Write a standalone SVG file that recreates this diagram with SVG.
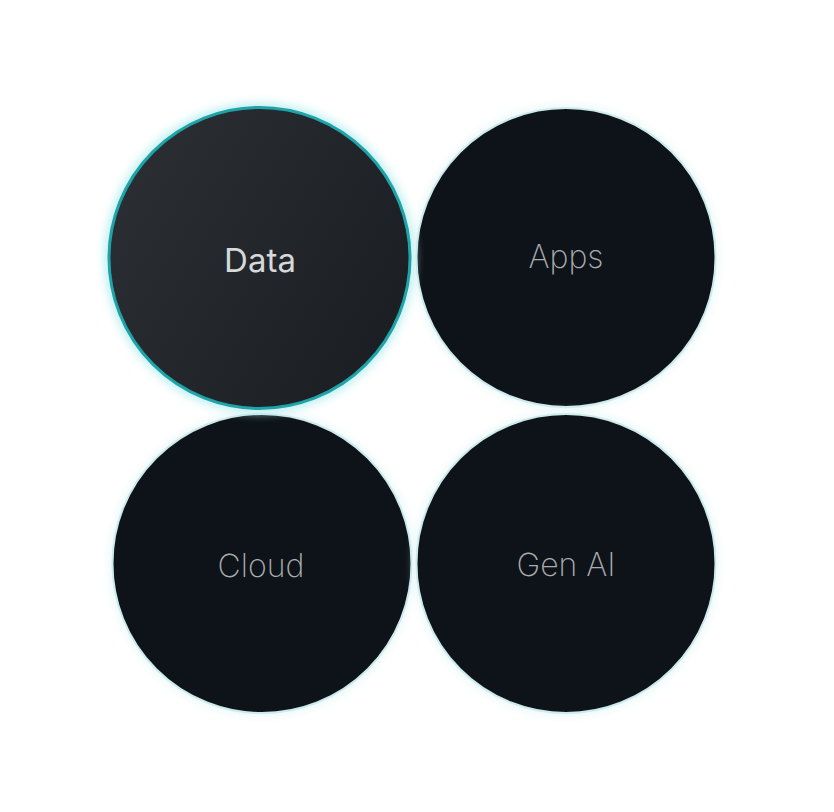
<svg xmlns="http://www.w3.org/2000/svg" width="834" height="812" viewBox="0 0 834 812">
<style>
.disc{fill:#0d1318;stroke:#cdeaec;stroke-width:2}
.lbl{font-family:Inter,"Liberation Sans",sans-serif;font-size:32px;font-weight:250;fill:#a9abad;text-anchor:middle}
.lbl-on{font-family:Inter,"Liberation Sans",sans-serif;font-size:33px;font-weight:400;fill:#d6d8da;text-anchor:middle}
</style>
<defs>
<linearGradient id="gData" x1="0" y1="0.2" x2="1" y2="0.8">
<stop offset="0" stop-color="#2b2f33"/>
<stop offset="1" stop-color="#1a1e22"/>
</linearGradient>
<filter id="glow" x="-20%" y="-20%" width="140%" height="140%">
<feGaussianBlur stdDeviation="5"/>
</filter>
</defs>
<rect width="834" height="812" fill="#ffffff"/>
<g id="node-apps">
<circle cx="566" cy="257.5" r="152" fill="#d9f2f3" filter="url(#glow)" opacity="0.6"/>
<circle class="disc" cx="566" cy="257.5" r="149.5"/>
<text class="lbl" x="566" y="268">Apps</text>
</g>
<g id="node-cloud">
<circle cx="262" cy="563.5" r="152" fill="#d9f2f3" filter="url(#glow)" opacity="0.6"/>
<circle class="disc" cx="262" cy="563.5" r="149.5"/>
<text class="lbl" x="261" y="577">Cloud</text>
</g>
<g id="node-genai">
<circle cx="566" cy="563.5" r="152" fill="#d9f2f3" filter="url(#glow)" opacity="0.6"/>
<circle class="disc" cx="566" cy="563.5" r="149.5"/>
<text class="lbl" x="566" y="576">Gen AI</text>
</g>
<g id="node-data">
<circle cx="259.5" cy="258" r="155" fill="#b5ecee" filter="url(#glow)" opacity="0.9"/>
<circle cx="259.5" cy="258" r="150.5" fill="url(#gData)" stroke="#1ea4a8" stroke-width="3"/>
<text class="lbl-on" x="260" y="272">Data</text>
</g>
<g id="connectors"/>
</svg>
